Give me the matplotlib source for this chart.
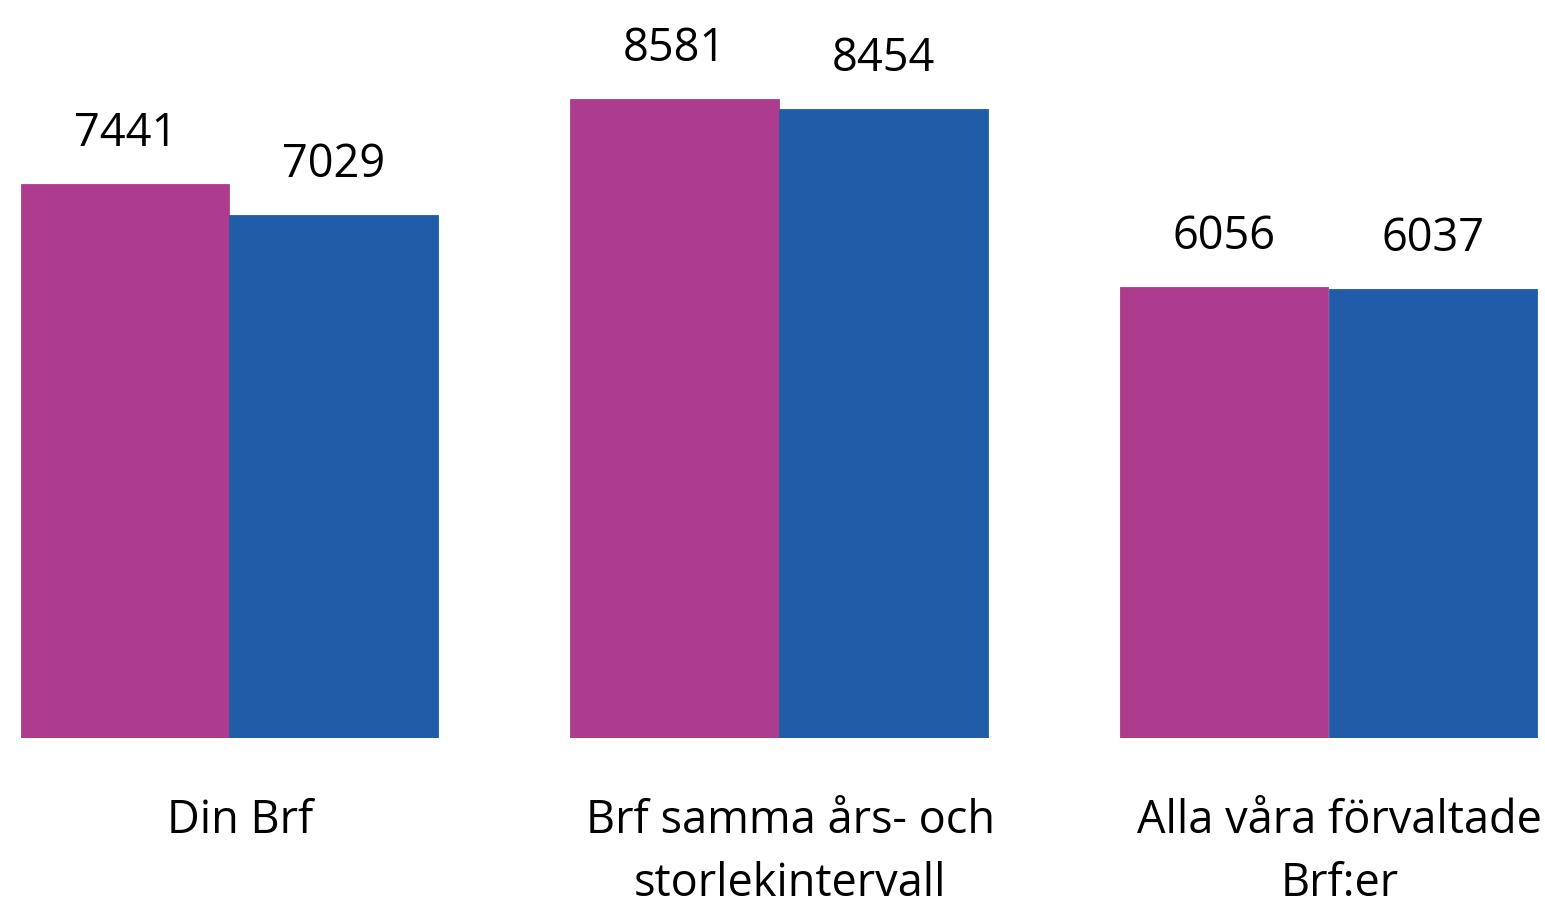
import matplotlib
matplotlib.use("Agg")
import matplotlib.pyplot as plt
import numpy as np

plt.rcParams['font.family'] = ['Open Sans', 'DejaVu Sans']

categories = ["Din Brf", "Brf samma års- och\nstorlekintervall", "Alla våra förvaltade\nBrf:er"]
serie_1 = [7441, 8581, 6056]
serie_2 = [7029, 8454, 6037]

color_1 = "#AD3C8E"
color_2 = "#215CA8"

W, H = 1545, 901
fig = plt.figure(figsize=(W / 100, H / 100), dpi=100)
base_px = 738
ax = fig.add_axes([0, (H - base_px) / H, 1, base_px / H])

x = np.arange(len(categories))
bw = 0.3795
ax.bar(x - bw / 2, serie_1, width=bw, color=color_1, edgecolor=color_1, linewidth=0.6)
ax.bar(x + bw / 2, serie_2, width=bw, color=color_2, edgecolor=color_2, linewidth=0.6)

# skala: 0.07445 px per enhet
ax.set_ylim(0, base_px / 0.07445)
ax.set_xlim(-229.5 / 549.5, (W - 229.5) / 549.5)
ax.axis("off")

px = 0.72  # punkter per pixel
for xs, vals in ((x - bw / 2, serie_1), (x + bw / 2, serie_2)):
    for xi, v in zip(xs, vals):
        ax.annotate(str(v), (xi, v), xytext=(0, 50 * px), textcoords="offset points",
                    ha="center", va="center", fontsize=32.5, color="black")

for xi, lab in zip(x, categories):
    for k, line in enumerate(lab.split("\n")):
        ax.annotate(line, (xi, 0), xytext=(11 * px, -(83 + 63 * k) * px),
                    textcoords="offset points", ha="center", va="center",
                    fontsize=32.5, color="black", annotation_clip=False)

fig.savefig("out.png", dpi=100)
